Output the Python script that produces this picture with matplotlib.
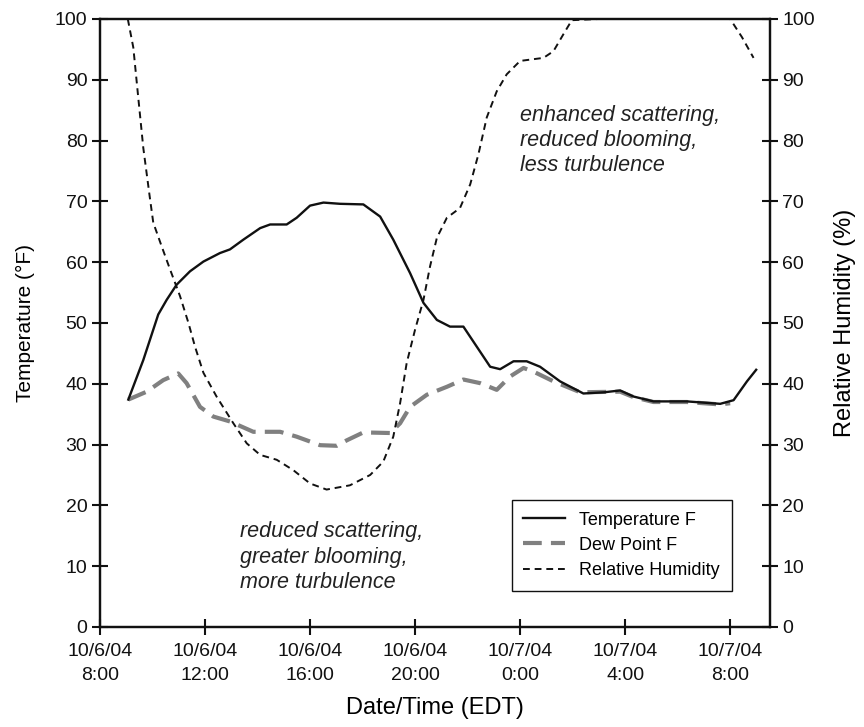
import numpy as np
import matplotlib
matplotlib.use('Agg')
import matplotlib.pyplot as plt
from matplotlib.lines import Line2D

plt.rcParams['font.family'] = ['Liberation Sans', 'DejaVu Sans']

##### Data (hours after 10/6/04 8:00 EDT) #####
temp_hours = [1.08, 1.65, 2.22, 2.54, 2.92, 3.43, 3.94, 4.57, 4.95, 5.46, 6.10,
              6.48, 7.11, 7.49, 8.00, 8.51, 9.14, 10.03, 10.67, 11.17, 11.81,
              12.32, 12.83, 13.33, 13.84, 14.35, 14.86, 15.24, 15.75, 16.25,
              16.76, 17.52, 18.41, 19.20, 19.81, 20.32, 21.08, 22.35, 23.62,
              24.13, 24.64, 24.99]
temp_f = [37.4, 43.9, 51.4, 53.8, 56.3, 58.5, 60.1, 61.5, 62.1, 63.7, 65.6,
          66.2, 66.2, 67.3, 69.3, 69.8, 69.6, 69.5, 67.5, 63.7, 58.2,
          53.3, 50.5, 49.4, 49.4, 46.1, 42.8, 42.4, 43.7, 43.7,
          42.8, 40.4, 38.4, 38.6, 38.9, 37.9, 37.1, 37.1, 36.7,
          37.3, 40.4, 42.3]

dew_hours = [1.08, 1.78, 2.41, 2.98, 3.30, 3.81, 4.32, 4.95, 5.84, 6.86, 7.49,
             8.38, 9.02, 9.40, 10.03, 11.05, 11.43, 11.81, 12.45, 13.21, 13.84,
             14.48, 15.11, 15.62, 16.13, 16.51, 17.27, 18.29, 19.81, 20.32,
             21.08, 22.35, 23.62, 24.0]
dew_f = [37.4, 38.7, 40.6, 41.7, 40.1, 36.2, 34.6, 33.8, 32.1, 32.1, 31.3,
         29.9, 29.8, 30.7, 32.0, 31.9, 33.5, 36.2, 38.2, 39.5, 40.7,
         40.1, 39.0, 41.2, 42.6, 42.0, 40.4, 38.6, 38.7, 37.8,
         37.0, 37.0, 36.6, 36.8]

rh_hours = [1.06, 1.27, 1.46, 1.65, 1.90, 2.03, 2.35, 2.67, 3.05, 3.37, 3.62,
            3.94, 4.44, 5.08, 5.59, 6.10, 6.73, 7.36, 8.00, 8.63, 9.52, 10.29,
            10.79, 11.17, 11.43, 11.68, 12.00, 12.32, 12.57, 12.83, 13.21,
            13.71, 14.10, 14.41, 14.73, 15.11, 15.49, 16.00, 16.89, 17.27,
            17.65, 17.97, 19.0, 20.0, 21.0, 22.0, 23.0, 24.0, 24.45, 24.89]
rh_pct = [100, 95.3, 87.0, 78.8, 70.6, 66.5, 62.6, 58.8, 54.4, 50.0, 46.1,
          41.8, 37.9, 33.5, 30.2, 28.3, 27.5, 25.8, 23.6, 22.6, 23.3, 25.0,
          27.2, 31.3, 36.8, 43.4, 48.9, 53.8, 59.3, 64.0, 67.3,
          68.9, 72.8, 77.7, 83.8, 88.1, 90.9, 93.1, 93.6, 94.7,
          97.5, 99.8, 100, 100, 100, 100, 100, 100, 97.0, 93.6]

tick_hours = [0, 4, 8, 12, 16, 20, 24]
tick_labels = ['10/6/04\n8:00', '10/6/04\n12:00', '10/6/04\n16:00',
               '10/6/04\n20:00', '10/7/04\n0:00', '10/7/04\n4:00',
               '10/7/04\n8:00']

##### Plot #####
fig = plt.figure(figsize=(8.64, 7.27), dpi=100)
ax = fig.add_axes([0.1157, 0.1376, 0.775, 0.8363])
ax2 = ax.twinx()

ax.plot(dew_hours, dew_f, color='#808080', lw=3.0, dashes=(4.5, 2.2),
        solid_capstyle='butt')
ax.plot(temp_hours, temp_f, color='#111111', lw=1.7)
ax2.plot(rh_hours, rh_pct, color='#111111', lw=1.4, dashes=(3.5, 2.5))

for a in (ax, ax2):
    a.set_ylim(0, 100)
    a.set_yticks(range(0, 101, 10))
    a.tick_params(direction='inout', length=11, width=1.5, labelsize=14,
                  colors='#111111')
    for s in a.spines.values():
        s.set_linewidth(1.6)
        s.set_color('#111111')
ax.set_xlim(0, 25.5)
ax.set_xticks(tick_hours)
ax.set_xticklabels(tick_labels, linespacing=1.55)
ax.tick_params(axis='x', pad=6)

ax.set_xlabel('Date/Time (EDT)', fontsize=17, labelpad=9)
ax.set_ylabel('Temperature (\u00b0F)', fontsize=15, labelpad=14)
ax2.set_ylabel('Relative Humidity (%)', fontsize=17, labelpad=14)

ax.text(16.0, 80.0, 'enhanced scattering,\nreduced blooming,\nless turbulence',
        fontsize=15.5, style='italic', color='#222222', va='center',
        linespacing=1.27)
ax.text(5.35, 11.5, 'reduced scattering,\ngreater blooming,\nmore turbulence',
        fontsize=15.5, style='italic', color='#222222', va='center',
        linespacing=1.27)

handles = [Line2D([], [], color='#111111', lw=1.7),
           Line2D([], [], color='#808080', lw=3.0, dashes=(4.5, 2.2)),
           Line2D([], [], color='#111111', lw=1.4, dashes=(3.5, 2.5))]
leg = ax2.legend(handles, ['Temperature F', 'Dew Point F', 'Relative Humidity'],
                 loc='lower right', bbox_to_anchor=(0.957, 0.045), fontsize=13,
                 fancybox=False, edgecolor='#111111', framealpha=1,
                 handlelength=2.3, labelspacing=0.45, borderpad=0.65,
                 handletextpad=0.8)
leg.get_frame().set_linewidth(1.0)

fig.savefig('out.png', dpi=100)
